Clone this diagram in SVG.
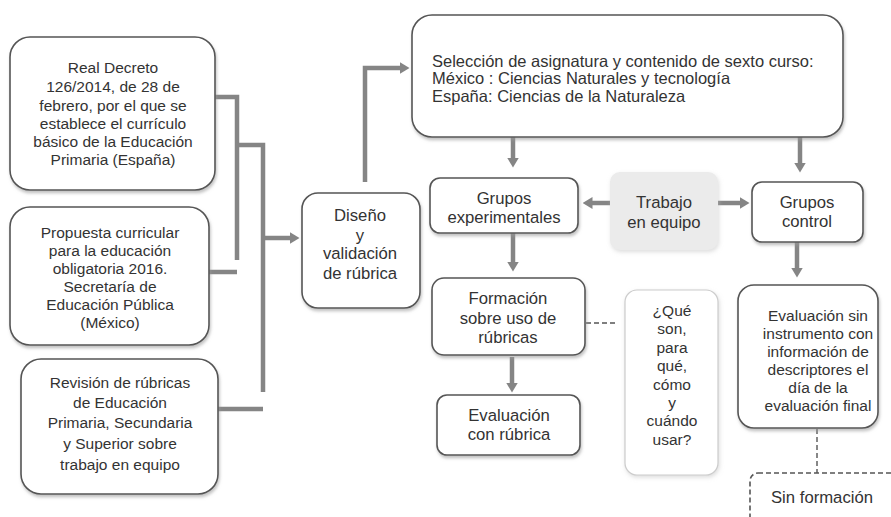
<svg xmlns="http://www.w3.org/2000/svg" width="891" height="517" viewBox="0 0 891 517">
<style>
.box{fill:#fff;stroke:#555;stroke-width:1.6;filter:url(#sh)}
.lite{fill:#fff;stroke:#ccc;stroke-width:1.2;filter:url(#sh2)}
.gray{fill:#ebebeb;stroke:none;filter:url(#sh2)}
.dash{fill:#fff;stroke:#555;stroke-width:1.6;stroke-dasharray:5 3}
.t{font-family:"Liberation Sans",Arial,sans-serif;font-size:16.7px;fill:#333;text-anchor:middle}
.ts{font-family:"Liberation Sans",Arial,sans-serif;font-size:15.5px;fill:#333;text-anchor:middle}
.tl{font-family:"Liberation Sans",Arial,sans-serif;font-size:16.5px;fill:#333}
.c{fill:none;stroke:#858585;stroke-width:4.5}
.a{fill:none;stroke:#858585;stroke-width:4.5;marker-end:url(#ah)}
.d{fill:none;stroke:#555;stroke-width:1.4;stroke-dasharray:5 3}
</style>
<defs>
<filter id="sh" x="-10%" y="-10%" width="120%" height="130%">
<feDropShadow dx="1" dy="2.5" stdDeviation="1.5" flood-color="#999" flood-opacity="0.6"/>
</filter>
<filter id="sh2" x="-10%" y="-10%" width="120%" height="130%">
<feDropShadow dx="1" dy="2" stdDeviation="2" flood-color="#bbb" flood-opacity="0.5"/>
</filter>
<marker id="ah" viewBox="0 0 10 12" refX="0.5" refY="6" markerWidth="10" markerHeight="13" orient="auto" markerUnits="userSpaceOnUse">
<path d="M0,0 L10,6 L0,12 z" fill="#858585"/>
</marker>
</defs>
<rect width="891" height="517" fill="#fff"/>

<g id="connectors">
<path class="c" d="M215,97 H237 V260"/>
<path class="c" d="M209,272 H237"/>
<path class="c" d="M237,145 H263 V392"/>
<path class="c" d="M218,409 H263"/>
<path class="a" d="M263,238 H290"/>
<path class="a" d="M365,182 V68 H400"/>
<path class="a" d="M513,137 V158"/>
<path class="a" d="M800,137 V163"/>
<path class="a" d="M610,203 H592"/>
<path class="a" d="M718,203 H740"/>
<path class="a" d="M513,233 V262"/>
<path class="a" d="M512,357 V383"/>
<path class="a" d="M797,242 V268"/>
<path class="d" d="M586,323 H615"/>
<path class="d" d="M817,429 V473"/>
</g>

<g id="real-decreto">
<rect class="box" x="10" y="37" width="205" height="153" rx="20"/>
<text class="ts" x="113" y="73">Real Decreto</text>
<text class="ts" x="113" y="92">126/2014, de 28 de</text>
<text class="ts" x="113" y="111">febrero, por el que se</text>
<text class="ts" x="113" y="129">establece el currículo</text>
<text class="ts" x="113" y="147">básico de la Educación</text>
<text class="ts" x="113" y="165">Primaria (España)</text>
</g>

<g id="propuesta">
<rect class="box" x="10" y="207" width="199" height="138" rx="20"/>
<text class="ts" x="110" y="238">Propuesta curricular</text>
<text class="ts" x="110" y="256">para la educación</text>
<text class="ts" x="110" y="274">obligatoria 2016.</text>
<text class="ts" x="110" y="292">Secretaría de</text>
<text class="ts" x="110" y="310">Educación Pública</text>
<text class="ts" x="110" y="328">(México)</text>
</g>

<g id="revision">
<rect class="box" x="21" y="359" width="197" height="135" rx="20"/>
<text class="ts" x="120" y="388">Revisión de rúbricas</text>
<text class="ts" x="120" y="408">de Educación</text>
<text class="ts" x="120" y="428">Primaria, Secundaria</text>
<text class="ts" x="120" y="449">y Superior sobre</text>
<text class="ts" x="120" y="470">trabajo en equipo</text>
</g>

<g id="diseno">
<rect class="box" x="302" y="193" width="118" height="115" rx="16"/>
<text class="t" x="360" y="221">Diseño</text>
<text class="t" x="360" y="241">y</text>
<text class="t" x="360" y="259">validación</text>
<text class="t" x="360" y="279">de rúbrica</text>
</g>

<g id="seleccion">
<rect class="box" x="412" y="15" width="431" height="122" rx="20"/>
<text class="tl" x="432" y="67">Selección de asignatura y contenido de sexto curso:</text>
<text class="tl" x="432" y="84">México : Ciencias Naturales y tecnología</text>
<text class="tl" x="432" y="102">España: Ciencias de la Naturaleza</text>
</g>

<g id="grupos-experimentales">
<rect class="box" x="430" y="178" width="148" height="55" rx="10"/>
<text class="t" x="504" y="204">Grupos</text>
<text class="t" x="504" y="223">experimentales</text>
</g>

<g id="trabajo-equipo">
<rect class="gray" x="610" y="172" width="108" height="78" rx="10"/>
<text class="t" x="664" y="208">Trabajo</text>
<text class="t" x="664" y="228">en equipo</text>
</g>

<g id="grupos-control">
<rect class="box" x="752" y="182" width="111" height="60" rx="10"/>
<text class="t" x="807" y="208">Grupos</text>
<text class="t" x="807" y="227">control</text>
</g>

<g id="formacion">
<rect class="box" x="432" y="278" width="153" height="77" rx="12"/>
<text class="t" x="508" y="304">Formación</text>
<text class="t" x="508" y="324">sobre uso de</text>
<text class="t" x="508" y="343">rúbricas</text>
</g>

<g id="evaluacion-rubrica">
<rect class="box" x="437" y="395" width="143" height="60" rx="10"/>
<text class="t" x="509" y="421">Evaluación</text>
<text class="t" x="509" y="440">con rúbrica</text>
</g>

<g id="que-son">
<rect class="lite" x="625" y="290" width="93" height="185" rx="12"/>
<text class="ts" x="672" y="316">¿Qué</text>
<text class="ts" x="672" y="334">son,</text>
<text class="ts" x="672" y="353">para</text>
<text class="ts" x="672" y="371">qué,</text>
<text class="ts" x="672" y="390">cómo</text>
<text class="ts" x="672" y="408">y</text>
<text class="ts" x="672" y="426">cuándo</text>
<text class="ts" x="672" y="445">usar?</text>
</g>

<g id="evaluacion-sin">
<rect class="box" x="738" y="285" width="140" height="143" rx="16"/>
<text class="ts" x="818" y="321">Evaluación sin</text>
<text class="ts" x="818" y="339">instrumento con</text>
<text class="ts" x="818" y="357">información de</text>
<text class="ts" x="818" y="375">descriptores el</text>
<text class="ts" x="818" y="393">día de la</text>
<text class="ts" x="818" y="411">evaluación final</text>
</g>

<g id="sin-formacion">
<rect class="dash" x="750" y="473" width="160" height="60" rx="8"/>
<text class="t" x="822" y="503">Sin formación</text>
</g>
</svg>
